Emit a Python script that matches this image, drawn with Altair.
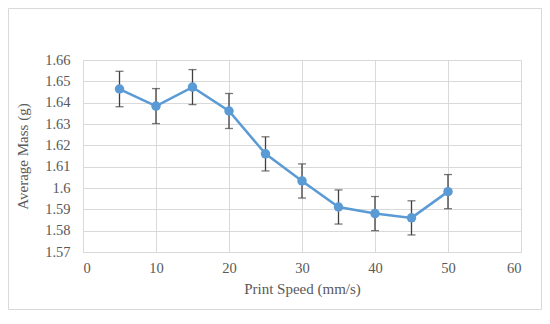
import altair as alt
import pandas as pd

speed = [5, 10, 15, 20, 25, 30, 35, 40, 45, 50]
mass = [1.6464, 1.6384, 1.6473, 1.6361, 1.6160, 1.6033, 1.5911, 1.5880, 1.5860, 1.5983]
err = [0.0083, 0.0082, 0.0082, 0.0082, 0.0080, 0.0080, 0.0080, 0.0080, 0.0080, 0.0080]
x_ticks = [0, 10, 20, 30, 40, 50, 60]
y_ticks = [1.57, 1.58, 1.59, 1.60, 1.61, 1.62, 1.63, 1.64, 1.65, 1.66]

df = pd.DataFrame({"speed": speed, "mass": mass, "err": err})
df["lo"] = df["mass"] - df["err"]
df["hi"] = df["mass"] + df["err"]

FONT = "Liberation Serif, Times New Roman, serif"
W, H = 438, 192

xs = alt.Scale(domain=[0, 60], nice=False, zero=False)
ys = alt.Scale(domain=[1.57, 1.66], nice=False, zero=False)

xaxis = alt.Axis(values=x_ticks, title="Print Speed (mm/s)", grid=True, ticks=False,
                 domain=True, domainColor="#d9d9d9", gridColor="#d9d9d9", gridWidth=1,
                 labelOverlap=False,
                 labelFont=FONT, labelFontSize=14.5, labelColor="#595959", labelPadding=9,
                 titleFont=FONT, titleFontSize=15, titleFontWeight="normal",
                 titleColor="#595959", titlePadding=7)
yaxis = alt.Axis(values=y_ticks, title="Average Mass (g)", grid=True, ticks=False,
                 domain=False, gridColor="#d9d9d9", gridWidth=1, format=".2~f",
                 labelOverlap=False,
                 labelFont=FONT, labelFontSize=14.5, labelColor="#595959", labelPadding=13,
                 titleFont=FONT, titleFontSize=15, titleFontWeight="normal",
                 titleColor="#595959", titlePadding=14)

X = alt.X("speed:Q", scale=xs, axis=xaxis)

base = alt.Chart(df)

line = base.mark_line(color="#5b9bd5", strokeWidth=2.5).encode(
    x=X, y=alt.Y("mass:Q", scale=ys, axis=yaxis),
)
rules = base.mark_rule(color="#404040", strokeWidth=1.3).encode(
    x=X, y=alt.Y("lo:Q", scale=ys, axis=yaxis), y2="hi:Q"
)
cap_lo = base.mark_tick(color="#404040", thickness=1.3, size=8, orient="horizontal").encode(
    x=X, y=alt.Y("lo:Q", scale=ys, axis=yaxis)
)
cap_hi = base.mark_tick(color="#404040", thickness=1.3, size=8, orient="horizontal").encode(
    x=X, y=alt.Y("hi:Q", scale=ys, axis=yaxis)
)
pts = base.mark_point(filled=True, color="#5b9bd5", size=90, opacity=1).encode(
    x=X, y=alt.Y("mass:Q", scale=ys, axis=yaxis)
)
border = alt.Chart(pd.DataFrame({"a": [0]})).mark_rect(
    fill=None, stroke="#d9d9d9", strokeWidth=1
).encode(
    x=alt.value(-74.5), x2=alt.value(W + 20.5),
    y=alt.value(-51.5), y2=alt.value(H + 57.5),
)

chart = alt.layer(border, line, rules, cap_lo, cap_hi, pts).properties(
    width=W, height=H,
    autosize=alt.AutoSizeParams(type="none"),
    padding={"left": 75, "top": 52, "right": 21, "bottom": 72},
).configure(font=FONT).configure_axis(
    labelFont=FONT, titleFont=FONT
).configure_view(stroke=None)

chart.save("out.html", embed_options={"renderer": "svg", "actions": False})
